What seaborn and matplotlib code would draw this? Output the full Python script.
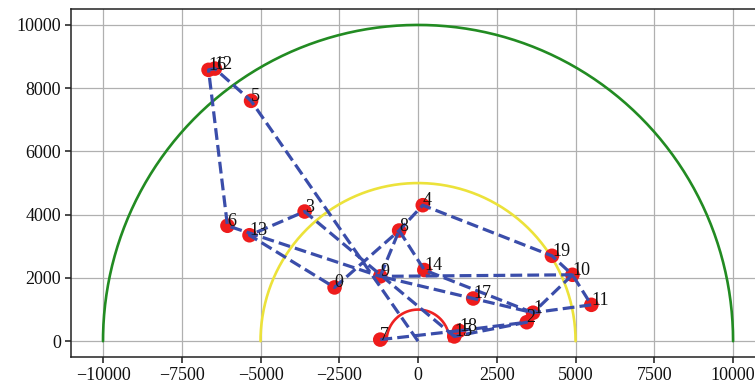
import numpy as np
import pandas as pd
import matplotlib
matplotlib.use('Agg')
import matplotlib.pyplot as plt
import seaborn as sns

# customer coordinates (index = label)
xs = [-2650, 3650, 3450, -3600, 150, -5300, -6050, -1200, -600, -1200,
      4900, 5500, -6450, -5350, 200, 1150, -6650, 1750, 1300, 4250]
ys = [1700, 900, 600, 4100, 4300, 7600, 3650, 50, 3500, 2050,
      2100, 1150, 8620, 3350, 2250, 150, 8580, 1350, 330, 2700]

# depot at the origin
depot = (0, 0)

# routes as node sequences ('D' = depot)
route_a = ['D', 5, 12, 16, 6, 9, 10, 19, 4, 8, 0, 13, 3, 15, 18, 7]
route_b = [8, 14, 1, 17, 9, 8]
route_c = [10, 1, 11, 10]
route_d = [18, 2, 15]
routes = [route_a, route_b, route_c, route_d]

# service rings
radii = [10000, 5000, 1000]
ring_colors = ['forestgreen', '#ece23a', '#ee2222']

sns.set_theme(style='ticks')
plt.rcParams['font.family'] = ['Liberation Serif', 'DejaVu Serif']

fig = plt.figure(figsize=(7.55, 3.9), dpi=100)
ax = fig.add_axes([0.0947, 0.0846, 0.918, 0.892])

theta = np.linspace(0, np.pi, 300)
for r, c in zip(radii, ring_colors):
    ax.plot(depot[0] + r * np.cos(theta), depot[1] + r * np.sin(theta), color=c, lw=1.9)

df = pd.DataFrame({'x': xs, 'y': ys})
sns.scatterplot(data=df, x='x', y='y', ax=ax, color='#ee1c1c', s=110, edgecolor='none', zorder=3)


def coord(n):
    if n == 'D':
        return depot
    return xs[n], ys[n]


for route in routes:
    pts = [coord(n) for n in route]
    rdf = pd.DataFrame(pts, columns=['x', 'y'])
    sns.lineplot(data=rdf, x='x', y='y', sort=False, estimator=None, ax=ax,
                 color='#3a4daa', lw=2.3, linestyle='--', zorder=4)

for i, (x, y) in enumerate(zip(xs, ys)):
    ax.text(x, y, str(i), fontsize=13, color='#111111', zorder=5)

ax.set_xlim(-11000, 11000)
ax.set_ylim(-500, 10500)
ax.set_xticks([-10000, -7500, -5000, -2500, 0, 2500, 5000, 7500, 10000])
ax.set_yticks([0, 2000, 4000, 6000, 8000, 10000])
ax.set_xlabel('')
ax.set_ylabel('')
ax.grid(True, color='#b0b0b0', lw=0.9)
ax.set_axisbelow(True)
ax.tick_params(labelsize=13, length=4, color='#333333', labelcolor='#111111')
for sp in ax.spines.values():
    sp.set_color('#222222')
    sp.set_linewidth(1.1)

plt.savefig('out.png', dpi=100)
